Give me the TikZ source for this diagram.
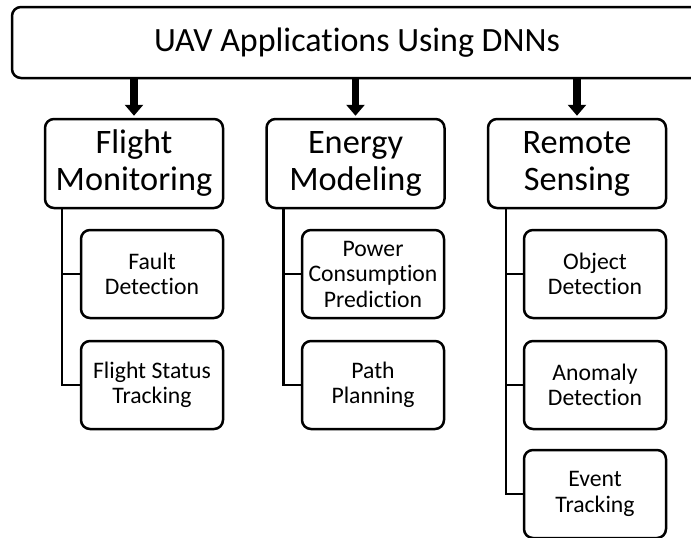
\documentclass[tikz,border=0pt]{standalone}
\usepackage{fontspec}
\setmainfont{Carlito}[RawFeature={-liga;-clig;-rlig;-calt;-dlig}]
\usetikzlibrary{arrows.meta}

\tikzset{
  rbox/.style={draw, line width=2.5pt, rounded corners=9pt, fill=white,
    inner sep=0pt, align=center},
  catbox/.style={rbox, minimum width=178pt, minimum height=89pt,
    font=\fontsize{34.3}{37}\selectfont},
  subbox/.style={rbox, minimum width=142pt, minimum height=88pt,
    font=\fontsize{23.7}{25.5}\selectfont},
  bigarrow/.style={line width=7.5pt, -{Triangle[width=18pt,length=11pt]},
    shorten >=2pt},
  branch/.style={line width=2.5pt}
}

\begin{document}
\begin{tikzpicture}[x=1pt, y=-1pt]
  \useasboundingbox (0,0) rectangle (691,538);

  % title bar (runs off the right edge)
  \node[rbox, minimum width=690pt, minimum height=71pt,
        font=\fontsize{34}{38}\selectfont] (top) at (357,42.5)
        {UAV Applications Using DNNs};

  % categories
  \node[catbox] (fm) at (134,163.5) {Flight\\Monitoring};
  \node[catbox] (em) at (355.5,163.5) {Energy\\Modeling};
  \node[catbox] (rs) at (577,163.5) {Remote\\Sensing};

  % sub-topics
  \node[subbox] (fd)  at (152,274) {Fault\\Detection};
  \node[subbox] (fst) at (152,385) {Flight Status\\Tracking};

  \node[subbox] (pcp) at (373,274) {Power\\Consumption\\Prediction};
  \node[subbox] (pp)  at (373,385) {Path\\Planning};

  \node[subbox] (od)  at (595,274) {Object\\Detection};
  \node[subbox] (ad)  at (595,385) {Anomaly\\Detection};
  \node[subbox] (et)  at (595,494) {Event\\Tracking};

  % arrows from the title bar
  \draw[bigarrow] (fm.north |- top.south) -- (fm.north);
  \draw[bigarrow] (em.north |- top.south) -- (em.north);
  \draw[bigarrow] (rs.north |- top.south) -- (rs.north);

  % tree branches
  \draw[branch] ([xshift=18pt]fm.south west) |- (fd.west);
  \draw[branch] ([xshift=18pt]fm.south west) |- (fst.west);
  \draw[branch] ([xshift=18pt]em.south west) |- (pcp.west);
  \draw[branch] ([xshift=18pt]em.south west) |- (pp.west);
  \draw[branch] ([xshift=19pt]rs.south west) |- (od.west);
  \draw[branch] ([xshift=19pt]rs.south west) |- (ad.west);
  \draw[branch] ([xshift=19pt]rs.south west) |- (et.west);
\end{tikzpicture}
\end{document}
